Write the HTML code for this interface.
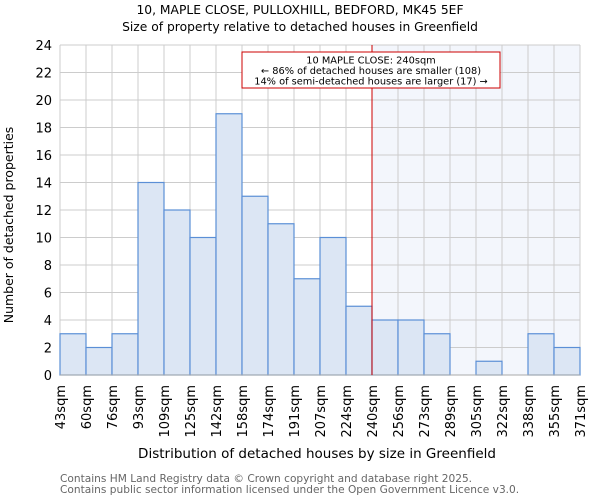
<!DOCTYPE html>
<html><head><meta charset="utf-8"><style>
body{margin:0;background:#fff;font-family:"DejaVu Sans","Liberation Sans",sans-serif}
</style></head><body>
<svg id="c" width="600" height="500" xmlns="http://www.w3.org/2000/svg" font-family="DejaVu Sans, Liberation Sans, sans-serif">
<text x="300" y="14" text-anchor="middle" font-size="12.3">10, MAPLE CLOSE, PULLOXHILL, BEDFORD, MK45 5EF</text>
<text x="300" y="31" text-anchor="middle" font-size="12.3">Size of property relative to detached houses in Greenfield</text>
<g id="plot"></g>
<text x="317" y="458" text-anchor="middle" font-size="13.5">Distribution of detached houses by size in Greenfield</text>
<text transform="translate(13,225) rotate(-90)" text-anchor="middle" font-size="12.5">Number of detached properties</text>
<text x="60" y="482" font-size="10.6" fill="#666">Contains HM Land Registry data © Crown copyright and database right 2025.</text>
<text x="60" y="493" font-size="10.6" fill="#666">Contains public sector information licensed under the Open Government Licence v3.0.</text>
</svg>
<script>
const binLabels=["43sqm","60sqm","76sqm","93sqm","109sqm","125sqm","142sqm","158sqm","174sqm","191sqm","207sqm","224sqm","240sqm","256sqm","273sqm","289sqm","305sqm","322sqm","338sqm","355sqm","371sqm"];
const counts=[3,2,3,14,12,10,19,13,11,7,10,5,4,4,3,0,1,0,3,2];
const yTicks=[0,2,4,6,8,10,12,14,16,18,20,22,24];
const markerBin=12;
const X0=60,X1=580,Y0=375,Y1=45,YMAX=24;
const bw=(X1-X0)/counts.length;
const xs=i=>X0+i*bw, ys=v=>Y0-(v/YMAX)*(Y0-Y1);
const NS="http://www.w3.org/2000/svg";
const g=document.getElementById('plot');
function mk(t,a){const e=document.createElementNS(NS,t);for(const k in a)e.setAttribute(k,a[k]);g.appendChild(e);return e;}
let r=mk('rect',{x:xs(markerBin),y:Y1,width:X1-xs(markerBin),height:Y0-Y1,fill:'#f3f6fc'});


yTicks.forEach(t=>{
 let l=mk('line',{x1:X0,x2:X1,y1:ys(t),y2:ys(t),stroke:'#ccc'});
 
 
 let tx=mk('text',{x:X0-8,y:ys(t)+5,'text-anchor':'end','font-size':13});
 tx.textContent=t;
 
 
});
binLabels.forEach((s,i)=>{
 let l=mk('line',{x1:xs(i),x2:xs(i),y1:Y1,y2:Y0,stroke:'#ccc'});
 
 
 let tx=mk('text',{transform:`translate(${xs(i)+5},385) rotate(-90)`,'text-anchor':'end','font-size':13});
 tx.textContent=s;
 
 
});
counts.forEach((v,i)=>{
 if(v<=0)return;
 let b=mk('rect',{x:xs(i),y:ys(v),width:bw,height:Y0-ys(v),fill:'#dce6f4',stroke:'#5b8fd6','stroke-width':1.2});
 
 
});
let ax=mk('line',{x1:X0,x2:X1,y1:Y0,y2:Y0,stroke:'#aaa'});


let ml=mk('line',{x1:xs(markerBin),x2:xs(markerBin),y1:Y1,y2:Y0,stroke:'#cc0000','stroke-width':1});


let box=mk('rect',{x:242,y:52,width:258,height:36,fill:'#fff',stroke:'#cc0000'});


["10 MAPLE CLOSE: 240sqm","← 86% of detached houses are smaller (108)","14% of semi-detached houses are larger (17) →"].forEach((s,i)=>{
 let t=mk('text',{x:371,y:63.5+i*10.5,'text-anchor':'middle','font-size':9.8});
 t.textContent=s;
 
 
});
</script>
</body></html>
